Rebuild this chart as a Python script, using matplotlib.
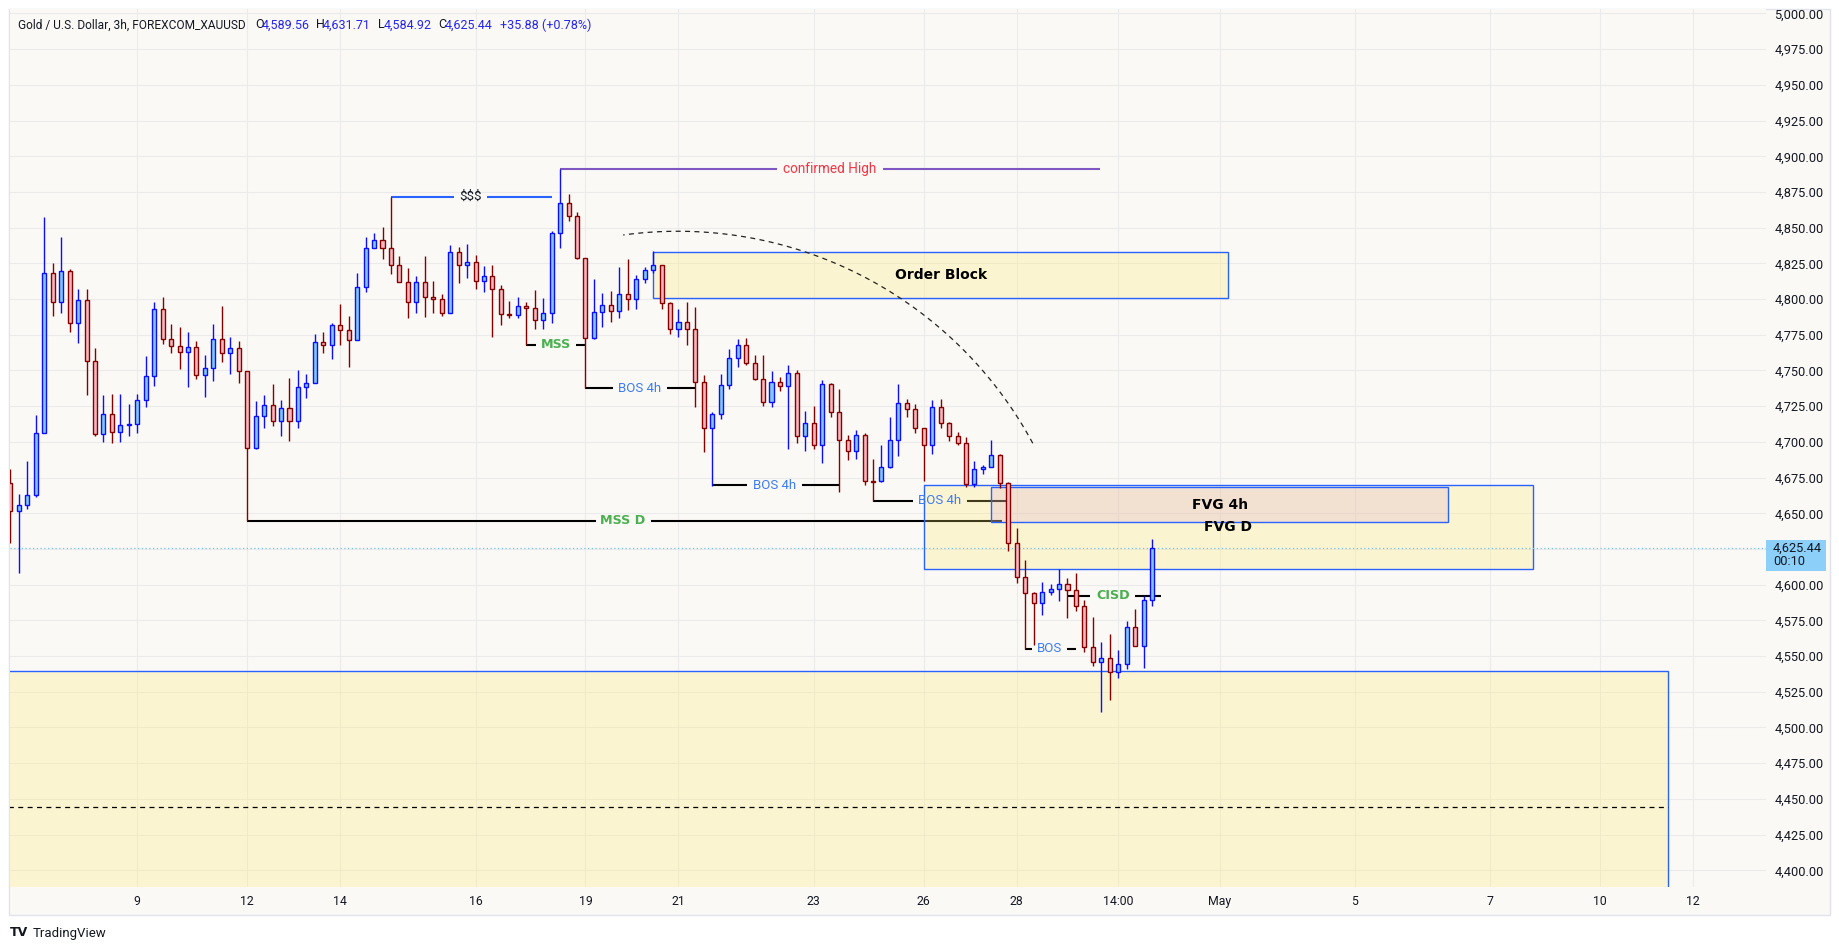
import numpy as np
import matplotlib.pyplot as plt
from matplotlib.patches import Rectangle
from matplotlib.transforms import blended_transform_factory

plt.rcParams['font.family'] = ['Roboto', 'DejaVu Sans']

# 3h XAUUSD candles (bar index = position on the time axis)
opens = [4671.0, 4651.8, 4655.6, 4662.6, 4706.0, 4818.0, 4797.7, 4819.4, 4783.0, 4799.1,
         4756.4, 4705.3, 4719.3, 4706.7, 4711.5, 4712.3, 4729.1, 4745.9, 4792.8, 4771.8,
         4766.9, 4762.7, 4766.2, 4746.6, 4751.5, 4771.8, 4762.0, 4765.5, 4749.4, 4695.5,
         4717.9, 4725.6, 4714.4, 4723.5, 4714.4, 4738.2, 4741.0, 4769.7, 4767.6, 4781.6,
         4778.1, 4771.1, 4808.2, 4835.5, 4841.1, 4835.5, 4823.6, 4811.7, 4797.7, 4811.7,
         4801.2, 4799.8, 4790.5, 4832.7, 4823.6, 4825.7, 4812.4, 4815.9, 4806.8, 4789.5,
         4788.6, 4794.9, 4793.5, 4785.1, 4790.0, 4846.0, 4867.1, 4858.0, 4829.0, 4772.5,
         4790.7, 4795.6, 4791.4, 4803.3, 4799.8, 4813.8, 4820.1, 4823.6, 4797.0, 4778.8,
         4783.7, 4778.8, 4741.7, 4709.5, 4719.3, 4739.6, 4758.5, 4767.6, 4755.0, 4744.3,
         4727.7, 4741.7, 4738.9, 4748.0, 4703.9, 4713.0, 4697.6, 4740.3, 4720.7, 4701.1,
         4693.4, 4704.6, 4672.6, 4672.4, 4682.2, 4701.1, 4727.1, 4722.9, 4709.5, 4697.6,
         4724.3, 4713.0, 4703.9, 4699.0, 4670.3, 4680.8, 4682.2, 4690.6, 4671.0, 4628.9,
         4605.1, 4593.9, 4586.9, 4594.6, 4596.7, 4600.2, 4596.0, 4584.8, 4556.1, 4545.6,
         4548.4, 4538.6, 4544.2, 4570.1, 4556.8, 4589.56]
highs = [4680.8, 4663.5, 4686.6, 4718.8, 4857.5, 4825.3, 4843.5, 4821.0, 4807.1, 4807.1,
         4765.5, 4732.8, 4733.5, 4733.5, 4726.5, 4733.5, 4760.2, 4797.7, 4801.2, 4782.3,
         4780.2, 4776.7, 4770.4, 4760.6, 4782.3, 4794.9, 4773.2, 4770.4, 4749.4, 4728.6,
         4732.8, 4740.5, 4729.3, 4744.7, 4750.4, 4747.5, 4775.6, 4776.7, 4783.0, 4796.6,
         4788.2, 4818.0, 4843.2, 4846.3, 4850.2, 4871.7, 4829.9, 4821.5, 4815.9, 4829.9,
         4812.4, 4803.3, 4837.6, 4836.2, 4838.3, 4830.6, 4822.9, 4823.6, 4809.6, 4798.4,
         4801.2, 4797.7, 4806.1, 4801.0, 4847.4, 4890.9, 4873.8, 4860.8, 4829.0, 4813.8,
         4804.0, 4805.7, 4822.2, 4827.8, 4816.6, 4822.2, 4833.4, 4823.6, 4797.7, 4792.8,
         4797.7, 4794.2, 4746.6, 4720.7, 4747.5, 4764.8, 4771.8, 4772.5, 4760.6, 4760.6,
         4749.6, 4745.2, 4753.6, 4750.1, 4721.4, 4724.9, 4743.1, 4741.0, 4736.8, 4704.6,
         4708.1, 4706.0, 4687.8, 4697.6, 4717.3, 4740.4, 4729.9, 4726.4, 4709.5, 4729.2,
         4729.9, 4713.7, 4706.7, 4703.2, 4686.4, 4683.6, 4701.1, 4691.3, 4672.1, 4639.4,
         4617.3, 4594.6, 4601.6, 4600.2, 4610.7, 4604.4, 4607.9, 4589.0, 4577.1, 4559.6,
         4565.2, 4554.0, 4574.3, 4582.7, 4591.8, 4631.71]
lows = [4629.4, 4608.4, 4653.2, 4661.6, 4706.0, 4788.4, 4790.5, 4777.2, 4769.5, 4733.1,
        4704.4, 4700.2, 4699.2, 4700.2, 4704.4, 4706.5, 4724.7, 4739.4, 4768.3, 4762.0,
        4751.3, 4738.7, 4743.8, 4731.7, 4742.9, 4756.2, 4747.8, 4741.5, 4644.8, 4695.0,
        4709.5, 4711.4, 4704.4, 4700.9, 4710.0, 4731.0, 4741.0, 4762.5, 4758.0, 4767.8,
        4752.7, 4771.1, 4805.2, 4835.5, 4827.8, 4817.3, 4811.7, 4787.0, 4790.5, 4787.7,
        4790.5, 4788.4, 4790.5, 4811.5, 4814.5, 4807.3, 4805.2, 4773.7, 4782.1, 4787.0,
        4786.5, 4768.1, 4779.3, 4779.3, 4783.0, 4835.5, 4854.4, 4827.8, 4737.5, 4772.0,
        4780.2, 4784.2, 4787.0, 4792.6, 4793.3, 4811.0, 4818.0, 4793.3, 4775.3, 4773.2,
        4767.6, 4724.7, 4693.2, 4669.3, 4716.0, 4736.8, 4752.7, 4753.6, 4743.6, 4725.4,
        4724.7, 4735.4, 4694.8, 4699.0, 4693.4, 4695.3, 4685.0, 4717.2, 4665.1, 4687.1,
        4687.8, 4670.1, 4658.9, 4671.7, 4681.5, 4690.4, 4717.3, 4706.0, 4672.9, 4691.8,
        4709.5, 4700.4, 4697.6, 4668.7, 4668.7, 4677.3, 4682.2, 4667.5, 4623.8, 4600.9,
        4555.0, 4557.7, 4579.0, 4592.5, 4588.8, 4576.9, 4581.8, 4552.6, 4543.3, 4511.1,
        4519.5, 4534.4, 4540.7, 4556.8, 4541.9, 4584.92]
closes = [4651.8, 4655.6, 4662.6, 4706.0, 4818.0, 4797.7, 4819.4, 4783.0, 4799.1, 4756.4,
          4705.3, 4719.3, 4706.7, 4711.6, 4712.3, 4729.1, 4745.9, 4792.8, 4771.8, 4766.9,
          4762.7, 4766.2, 4746.6, 4751.5, 4771.8, 4762.0, 4765.5, 4749.4, 4695.5, 4717.9,
          4725.6, 4714.4, 4723.5, 4714.4, 4738.2, 4741.0, 4769.7, 4767.6, 4781.6, 4778.1,
          4771.1, 4808.2, 4835.5, 4841.1, 4835.5, 4823.6, 4811.7, 4797.7, 4811.7, 4801.2,
          4799.8, 4790.5, 4832.7, 4823.6, 4825.7, 4812.4, 4815.9, 4806.8, 4789.3, 4789.1,
          4794.9, 4793.5, 4785.1, 4790.0, 4846.0, 4867.1, 4858.0, 4829.0, 4772.5, 4790.7,
          4795.6, 4791.4, 4803.3, 4799.8, 4813.8, 4820.1, 4823.6, 4797.0, 4778.8, 4783.7,
          4778.8, 4741.7, 4709.5, 4719.3, 4739.6, 4758.5, 4767.6, 4755.0, 4744.3, 4727.7,
          4741.7, 4738.9, 4748.0, 4703.9, 4713.0, 4697.6, 4740.3, 4720.7, 4701.1, 4693.4,
          4704.6, 4672.4, 4672.2, 4682.2, 4701.1, 4727.1, 4722.9, 4709.5, 4697.6, 4724.3,
          4713.0, 4703.9, 4699.0, 4670.3, 4680.8, 4682.2, 4690.6, 4671.0, 4629.0, 4605.1,
          4593.9, 4586.9, 4594.6, 4596.7, 4600.2, 4596.0, 4584.8, 4556.1, 4545.6, 4548.4,
          4538.6, 4544.2, 4570.1, 4556.8, 4589.56, 4625.44]

tick_pos = [15, 28, 39, 55, 68, 79, 95, 108, 119, 131, 143, 159, 175, 188, 199]
tick_labels = ['9', '12', '14', '16', '19', '21', '23', '26', '28', '14:00', 'May',
               '5', '7', '10', '12']
price_ticks = list(range(4400, 5001, 25))
last_price = 4625.44

# zones: x from, x to, low, high
order_block = (76, 144, 4800.6, 4833.3)
fvg_d = (108, 180, 4610.7, 4669.6)
fvg_4h = (116, 170, 4643.6, 4668.2)
demand = (-10, 196, 4348.5, 4539.5)
demand_mid = 4444.0

# structure levels: start, gap start, gap end, end, price, label, kind
levels = [
    (45, 52.5, 56.4, 64, 4871.7, '$$$', 'liq'),
    (65, 90.6, 103.2, 128.9, 4890.9, 'confirmed High', 'high'),
    (61, 62.1, 66.9, 68, 4768.1, 'MSS', 'mss'),
    (68, 71.2, 77.7, 81, 4737.4, 'BOS 4h', 'bos'),
    (83, 87.1, 93.6, 98, 4669.5, 'BOS 4h', 'bos'),
    (102, 106.7, 113.1, 118, 4658.9, 'BOS 4h', 'bos'),
    (28, 69.2, 75.7, 117.2, 4644.8, 'MSS D', 'mss'),
    (120, 120.8, 124.9, 126, 4555.0, 'BOS', 'bos'),
    (125, 127.7, 133.0, 136, 4592.3, 'CISD', 'mss'),
]

W, H = 1840, 950
bg = '#faf9f6'
dark = '#131722'
fig = plt.figure(figsize=(W / 100, H / 100), dpi=100)
fig.patch.set_facecolor('white')
fig.patches.append(Rectangle((9 / W, 1 - 915 / H), (1830 - 9) / W, (915 - 9) / H,
                             transform=fig.transFigure, facecolor=bg,
                             edgecolor='#e0e3eb', lw=1, zorder=-10))

ax = fig.add_axes([10 / W, 1 - 886.7 / H, 1756 / W, 877.7 / H])
ax.set_zorder(1)
ax.set_facecolor(bg)
ax.set_xlim(-0.05, 207.6)
ax.set_ylim(4388.5, 5003.15)
for s in ax.spines.values():
    s.set_visible(False)

ax.set_yticks(price_ticks)
ax.set_yticklabels([f'{p:,.2f}' for p in price_ticks])
ax.yaxis.tick_right()
ax.tick_params(axis='y', length=0, pad=6, labelsize=9.2, labelcolor=dark)
ax.set_xticks(tick_pos)
ax.set_xticklabels(tick_labels)
ax.tick_params(axis='x', length=0, pad=6, labelsize=8.8, labelcolor=dark)
ax.grid(True, color='#ebebeb', lw=0.8)
ax.set_axisbelow(True)

# level lines (under the zones)
line_col = {'liq': '#2962ff', 'high': '#7e57c2', 'mss': 'black', 'bos': 'black'}
text_col = {'liq': dark, 'high': '#f23645', 'mss': '#4caf50', 'bos': '#3d7cf2'}
for x0, g0, g1, x1, y, label, kind in levels:
    ax.plot([x0, g0], [y, y], color=line_col[kind], lw=1.5, solid_capstyle='butt', zorder=2)
    ax.plot([g1, x1], [y, y], color=line_col[kind], lw=1.5, solid_capstyle='butt', zorder=2)
    if kind == 'mss':
        ax.text((g0 + g1) / 2, y, label, ha='center', va='center', color=text_col[kind],
                fontsize=9.2, fontweight='bold', family='DejaVu Sans', zorder=8)
    else:
        ax.text((g0 + g1) / 2, y, label, ha='center', va='center', color=text_col[kind],
                fontsize=9.8 if kind == 'high' else 9.5, zorder=8)

# zones
yellow = (1.0, 0.914, 0.40, 0.25)
for x0, x1, lo, hi in [order_block, fvg_d, demand]:
    ax.add_patch(Rectangle((x0, lo), x1 - x0, hi - lo, facecolor=yellow,
                           edgecolor='#2962ff', lw=1.0, zorder=3))
ax.add_patch(Rectangle((fvg_4h[0], fvg_4h[2]), fvg_4h[1] - fvg_4h[0], fvg_4h[3] - fvg_4h[2],
                       facecolor=(0.81, 0.57, 0.84, 0.2), edgecolor='#2962ff', lw=1.0, zorder=3))
ax.plot([demand[0], demand[1]], [demand_mid, demand_mid], color='black', lw=0.9,
        ls=(0, (4, 3.5)), zorder=4)

bold = dict(ha='center', va='center', color='black', fontsize=10, fontweight='bold',
            family='DejaVu Sans', zorder=8)
ax.text((order_block[0] + order_block[1]) / 2, (order_block[2] + order_block[3]) / 2,
        'Order Block', **bold)
ax.text((fvg_4h[0] + fvg_4h[1]) / 2, (fvg_4h[2] + fvg_4h[3]) / 2, 'FVG 4h', **bold)
ax.text((fvg_d[0] + fvg_d[1]) / 2, (fvg_d[2] + fvg_d[3]) / 2, 'FVG D', **bold)

# dashed arc
t = np.radians(np.linspace(28.3, 97.8, 120))
ax.plot(78.93 + 47.66 * np.cos(t), 4565.2 + 282.3 * np.sin(t), color='#222222', lw=0.9,
        ls=(0, (4, 3.5)), zorder=4)

# last price line
ax.axhline(last_price, color='#6ec4f5', lw=0.9, ls=(0, (1, 2)), zorder=4)

# candles
o = np.array(opens)
h = np.array(highs)
l = np.array(lows)
c = np.array(closes)
x = np.arange(len(o))
up = c >= o
lo_body = np.minimum(o, c)
body = np.maximum(np.abs(c - o), 0.6)
for mask, face, edge in [(up, '#82c8f8', '#0d0dff'), (~up, '#f6b8be', '#860000')]:
    ax.vlines(x[mask], l[mask], h[mask], color=edge, lw=1.0, zorder=5)
    ax.bar(x[mask], body[mask], bottom=lo_body[mask], width=0.48, color=face,
           edgecolor=edge, linewidth=1.0, zorder=6)

# price label on the scale
trans = blended_transform_factory(ax.transAxes, ax.transData)
ax.add_patch(Rectangle((1.0, last_price - 15.7), 60 / 1756, 21.5, transform=trans,
                       facecolor='#8ccff8', edgecolor='none', clip_on=False, zorder=10))
ax.text(1 + 7 / 1756, last_price, '4,625.44', transform=trans, ha='left', va='center',
        fontsize=9.2, color=dark, clip_on=False, zorder=11)
ax.text(1 + 7 / 1756, last_price - 8.9, '00:10', transform=trans, ha='left', va='center',
        fontsize=9.2, color=dark, clip_on=False, zorder=11)

# header legend
blue = '#2525f0'
header = [('Gold / U.S. Dollar, 3h, FOREXCOM_XAUUSD', 17.8, dark), ('O', 255.5, dark),
          ('4,589.56', 262, blue), ('H', 316.5, dark), ('4,631.71', 323, blue),
          ('L', 378.5, dark), ('4,584.92', 383.5, blue), ('C', 438, dark),
          ('4,625.44', 444.5, blue), ('+35.88 (+0.78%)', 500, blue)]
for txt, px, col in header:
    fig.text(px / W, 1 - 25 / H, txt, ha='left', va='center',
             fontsize=8.6 if px < 20 else 9, color=col)

fig.text(10 / W, 1 - 933 / H, 'TV', ha='left', va='center', fontsize=9, fontweight='bold',
         family='DejaVu Sans', color=dark)
fig.text(33 / W, 1 - 933 / H, 'TradingView', ha='left', va='center', fontsize=9.5, color=dark)

fig.savefig('out.png', dpi=100, facecolor='white')
